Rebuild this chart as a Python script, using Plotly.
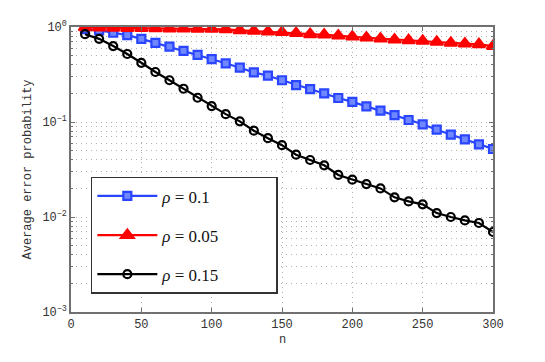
import plotly.graph_objects as go

n = list(range(10, 301, 10))

# rho = 0.1
p_rho_010 = [0.95, 0.92, 0.87, 0.82, 0.75, 0.68, 0.62, 0.56, 0.51, 0.46,
             0.415, 0.373, 0.333, 0.307, 0.275, 0.245, 0.222, 0.200, 0.179, 0.163,
             0.146, 0.132, 0.118, 0.105, 0.0946, 0.083, 0.0735, 0.0657, 0.0582, 0.052]
# rho = 0.05
p_rho_005 = [0.99, 0.985, 0.98, 0.975, 0.97, 0.967, 0.963, 0.96, 0.957, 0.953,
             0.946, 0.923, 0.908, 0.893, 0.88, 0.859, 0.838, 0.83, 0.81, 0.79,
             0.771, 0.753, 0.735, 0.724, 0.712, 0.695, 0.679, 0.667, 0.657, 0.63]
# rho = 0.15
p_rho_015 = [0.84, 0.75, 0.63, 0.52, 0.42, 0.336, 0.275, 0.224, 0.18, 0.147,
             0.121, 0.1016, 0.081, 0.0675, 0.057, 0.0453, 0.0398, 0.035, 0.0277, 0.0247,
             0.0222, 0.020, 0.0161, 0.0146, 0.0136, 0.011, 0.010, 0.0092, 0.00865, 0.00695]

pad = "\u00a0" * 12
series = [
    ("<i>ρ</i> = 0.1" + pad, p_rho_010, "#2a45ff", "square", 8, "#7088ff", "#2a45ff"),
    ("<i>ρ</i> = 0.05" + pad, p_rho_005, "#ff0000", "triangle-up", 11, "#ff0000", "#ff0000"),
    ("<i>ρ</i> = 0.15" + pad, p_rho_015, "#000000", "circle-open", 8, "#000000", "#000000"),
]

y_ticks = [0.001, 0.01, 0.1, 1]
y_labels = ["10<sup>−3</sup>", "10<sup>−2</sup>", "10<sup>−1</sup>", "10<sup>0</sup>"]

fig = go.Figure()
for i, (name, ys, col, sym, sz, fill, edge) in enumerate(series):
    fig.add_trace(go.Scatter(
        x=n, y=ys, name=name, mode="lines+markers", legendgroup=str(i),
        line=dict(color=col, width=2.2),
        marker=dict(symbol=sym, size=sz, color=fill, line=dict(color=edge, width=2.2)),
    ))

grid_col = "#b0b0b0"
tick_font = dict(family="Liberation Mono", size=12, color="#333333")
axis_common = dict(
    showline=True, linecolor="#707070", linewidth=1.5, mirror="ticks",
    ticks="inside", ticklen=4, tickcolor="#707070",
    showgrid=True, gridcolor=grid_col, griddash="1px,4px", gridwidth=1,
    zeroline=False, automargin=False,
    tickfont=tick_font,
)

fig.update_xaxes(range=[0, 300], dtick=50, ticklabelstandoff=0, **axis_common)
fig.update_yaxes(
    type="log", range=[-3, 0],
    tickvals=y_ticks, ticktext=y_labels,
    minor=dict(dtick="D1", showgrid=True, gridcolor=grid_col, griddash="1px,4px",
               ticks="inside", ticklen=2, tickcolor="#707070"),
    **axis_common,
)

# axis titles as annotations (page body has an 8px margin)
fig.add_annotation(text="n", xref="paper", yref="paper", x=0.5, y=-0.068,
                   yanchor="top", showarrow=False, font=tick_font)
fig.add_annotation(text="Average error probability", xref="paper", yref="paper",
                   x=-0.102, y=0.5, textangle=-90, xanchor="center",
                   showarrow=False, font=tick_font)

fig.update_layout(
    width=537, height=354,
    margin=dict(l=63, r=52, t=19, b=50),
    paper_bgcolor="white", plot_bgcolor="white",
    legend=dict(
        x=0.047, y=0.474, xanchor="left", yanchor="top",
        bgcolor="white", bordercolor="#333333", borderwidth=1.5,
        font=dict(family="Liberation Serif", size=17, color="#111111"),
        itemwidth=60, tracegroupgap=14,
        itemsizing="trace",
    ),
    showlegend=True,
)

fig.write_html("out.html")
